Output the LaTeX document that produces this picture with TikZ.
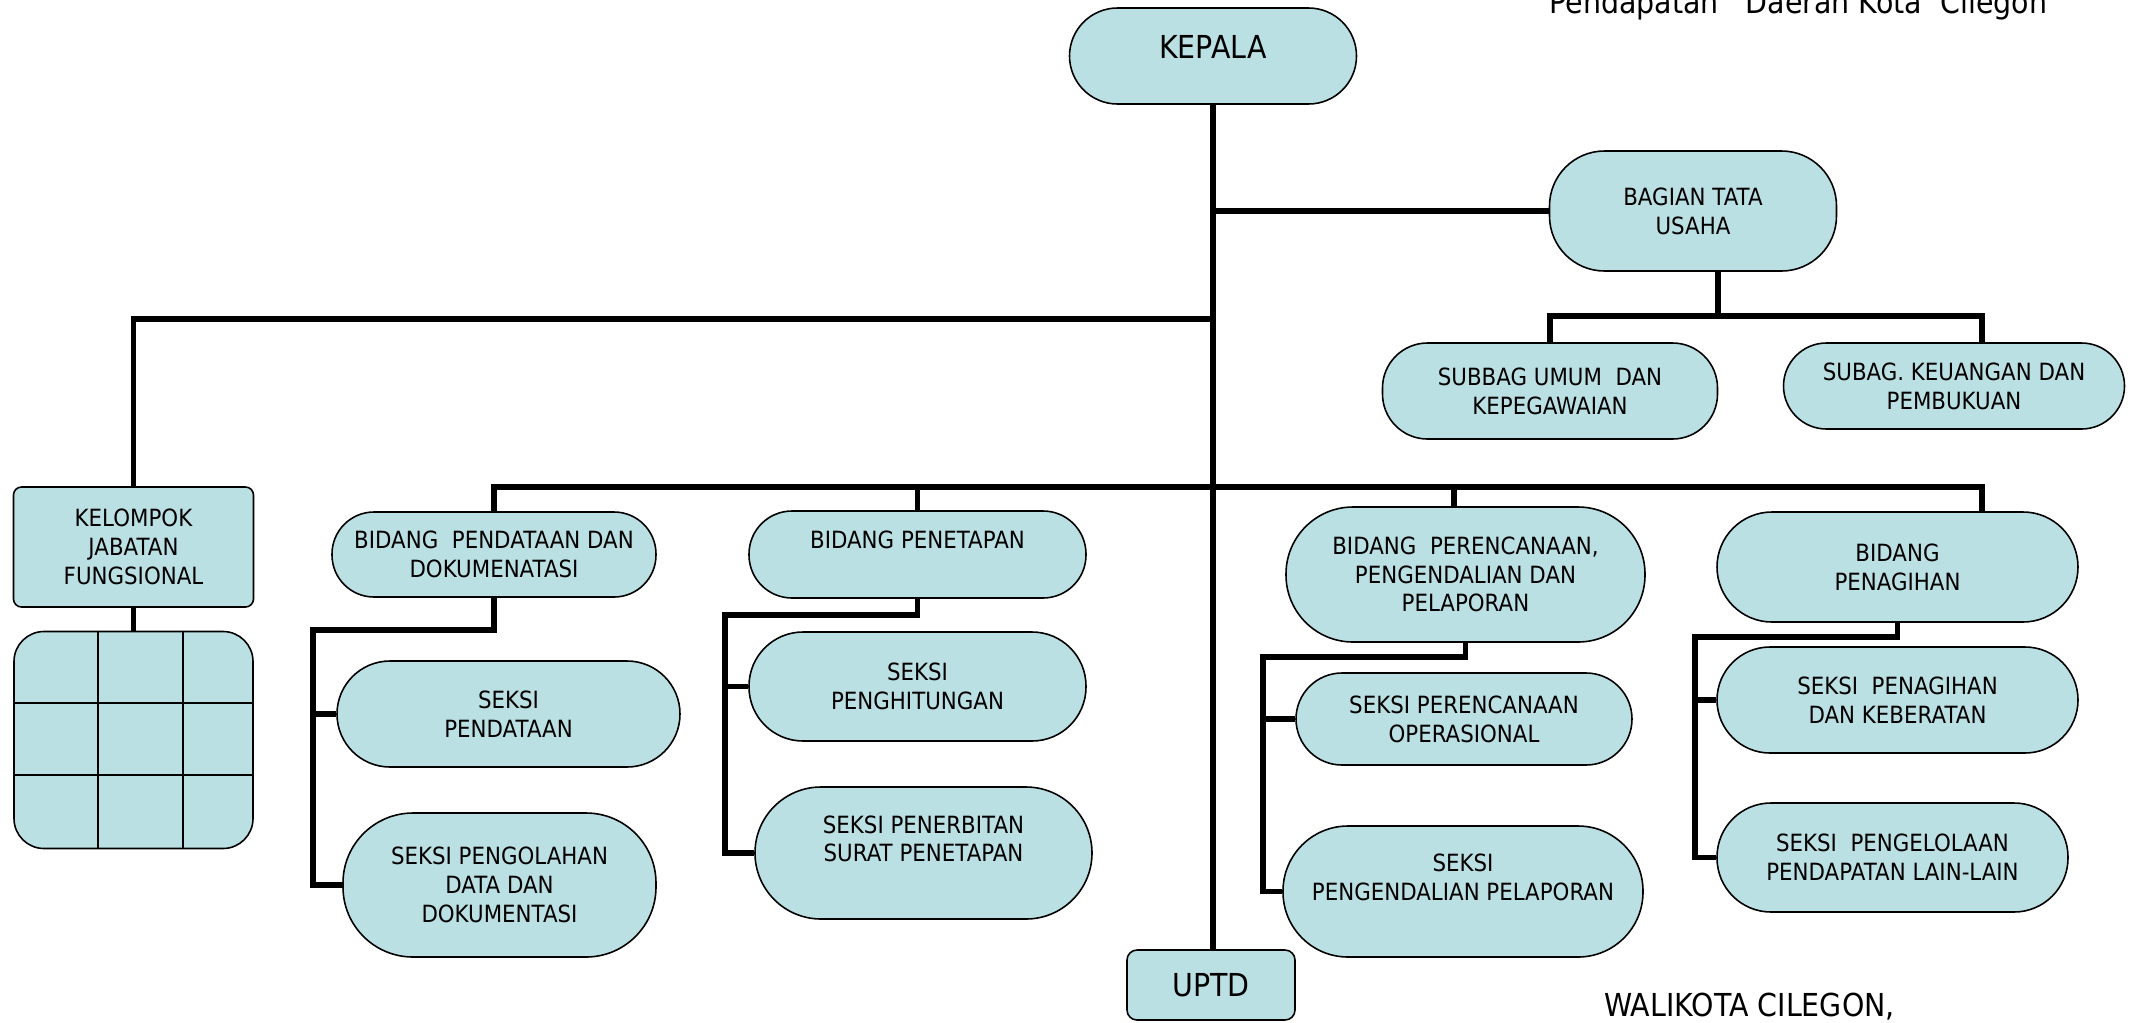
\documentclass[tikz,border=0pt]{standalone}
\usepackage{fontspec}
\setmainfont{DejaVu Sans}[FakeStretch=0.9]
\usepackage{tikz}
\definecolor{PaleTeal}{HTML}{BBE0E3}

\begin{document}
\begin{tikzpicture}[x=0.02cm,y=-0.02cm,
    unit/.style={draw=black,line width=0.9pt,fill=PaleTeal,align=center,inner sep=2pt,
      font=\fontsize{13.5}{16.4}\selectfont},
    dim/.style n args={3}{minimum width=#1*0.02cm,minimum height=#2*0.02cm,rounded corners=#3*0.02cm},
    big/.style={font=\fontsize{18}{22}\selectfont},
    link/.style={line width=3.2pt},
    gridline/.style={line width=1pt}]
  \useasboundingbox (0,0) rectangle (2137,1022);

  % head and secretariat
  \node[unit,big,dim={287}{96}{48},text depth=0.35cm] (kepala) at (1213,56) {KEPALA};
  \node[unit,dim={287}{120}{55}] (bagian) at (1693,211) {BAGIAN TATA\\USAHA};
  \node[unit,dim={335}{96}{45}] (subumum) at (1550,391) {SUBBAG UMUM~ DAN\\KEPEGAWAIAN};
  \node[unit,dim={341}{86}{43}] (subkeu) at (1954,386) {SUBAG. KEUANGAN DAN\\PEMBUKUAN};

  % functional group
  \node[unit,dim={240}{120}{8}] (kelompok) at (133.5,547) {KELOMPOK\\JABATAN\\FUNGSIONAL};
  \node[unit,dim={239}{217}{30}] (grid) at (133.5,740) {};
  \foreach \gx in {98,183}
    \draw[gridline] (grid.north -| \gx,0) -- (grid.south -| \gx,0);
  \foreach \gy in {703,775}
    \draw[gridline] (grid.west |- 0,\gy) -- (grid.east |- 0,\gy);

  % bidang
  \node[unit,dim={324}{85}{42}] (pendataan) at (494,554.5) {BIDANG~ PENDATAAN DAN\\DOKUMENATASI};
  \node[unit,dim={337}{87}{43}] (penetapan) at (917.5,554.5) {BIDANG PENETAPAN\\~};
  \node[unit,dim={359}{135}{67}] (perencanaan) at (1465.5,574.5) {BIDANG~ PERENCANAAN,\\PENGENDALIAN DAN\\PELAPORAN};
  \node[unit,dim={361}{110}{55}] (penagihan) at (1897.5,567) {BIDANG\\PENAGIHAN};

  % seksi
  \node[unit,dim={343}{106}{53}] (sPendataan) at (508.5,714) {SEKSI\\PENDATAAN};
  \node[unit,dim={313}{144}{70}] (sPengolahan) at (499.5,885) {SEKSI PENGOLAHAN\\DATA DAN\\DOKUMENTASI};
  \node[unit,dim={337}{109}{54}] (sPenghitungan) at (917.5,686.5) {SEKSI\\PENGHITUNGAN};
  \node[unit,dim={337}{132}{66}] (sPenerbitan) at (923.5,853) {SEKSI PENERBITAN\\SURAT PENETAPAN\\~};
  \node[unit,dim={336}{92}{46}] (sOperasional) at (1464,719) {SEKSI PERENCANAAN\\OPERASIONAL};
  \node[unit,dim={360}{131}{65}] (sPengendalian) at (1463,891.5) {SEKSI\\PENGENDALIAN PELAPORAN\\~};
  \node[unit,dim={361}{106}{53}] (sKeberatan) at (1897.5,700) {SEKSI~ PENAGIHAN\\DAN KEBERATAN};
  \node[unit,dim={351}{109}{54}] (sLain) at (1892.5,857.5) {SEKSI~ PENGELOLAAN\\PENDAPATAN LAIN-LAIN};

  \node[unit,big,dim={168}{70}{10}] (uptd) at (1211,985) {UPTD};

  % texts
  \node[anchor=base west,big,inner sep=0] (judul) at (1549,13) {Pendapatan\ \ \ Daerah Kota\ \ Cilegon};
  \node[anchor=base west,big,inner sep=0] (walikota) at (1604,1016) {WALIKOTA CILEGON,};

  % bends
  \coordinate (busK) at (1213,319);
  \coordinate (bus) at (1213,487);
  \coordinate (tapR) at (1454,487);
  \coordinate (busR) at (1982,487);
  \coordinate (tuL) at (1718,316);
  \coordinate (tuR) at (1982,316);
  \coordinate (combA) at (313,630);
  \coordinate (combB) at (725,615);
  \coordinate (combC) at (1263,657);
  \coordinate (combD) at (1695,637);

  % connectors
  \draw[link] (kepala.south) -- (kepala.south |- uptd.north);
  \draw[link] (kepala.south |- bagian.west) -- (bagian.west);
  \draw[link] (busK) -| (kelompok.north);
  \draw[link] (kelompok.south) -- (grid.north);
  \draw[link] (bagian.south -| tuL) -- (tuL);
  \draw[link] (subumum.north) |- (tuR) -- (subkeu.north -| tuR);
  \draw[link] (pendataan.north) |- (busR) -- (penagihan.north -| busR);
  \draw[link] (penetapan.north) -- (penetapan.north |- bus);
  \draw[link] (perencanaan.north -| tapR) -- (tapR);

  \draw[link] (pendataan.south) |- (combA) |- (sPengolahan.west);
  \draw[link] (combA |- sPendataan.west) -- (sPendataan.west);
  \draw[link] (penetapan.south) |- (combB) |- (sPenerbitan.west);
  \draw[link] (combB |- sPenghitungan.west) -- (sPenghitungan.west);
  \draw[link] (perencanaan.south) |- (combC) |- (sPengendalian.west);
  \draw[link] (combC |- sOperasional.west) -- (sOperasional.west);
  \draw[link] (penagihan.south) |- (combD) |- (sLain.west);
  \draw[link] (combD |- sKeberatan.west) -- (sKeberatan.west);
\end{tikzpicture}
\end{document}
